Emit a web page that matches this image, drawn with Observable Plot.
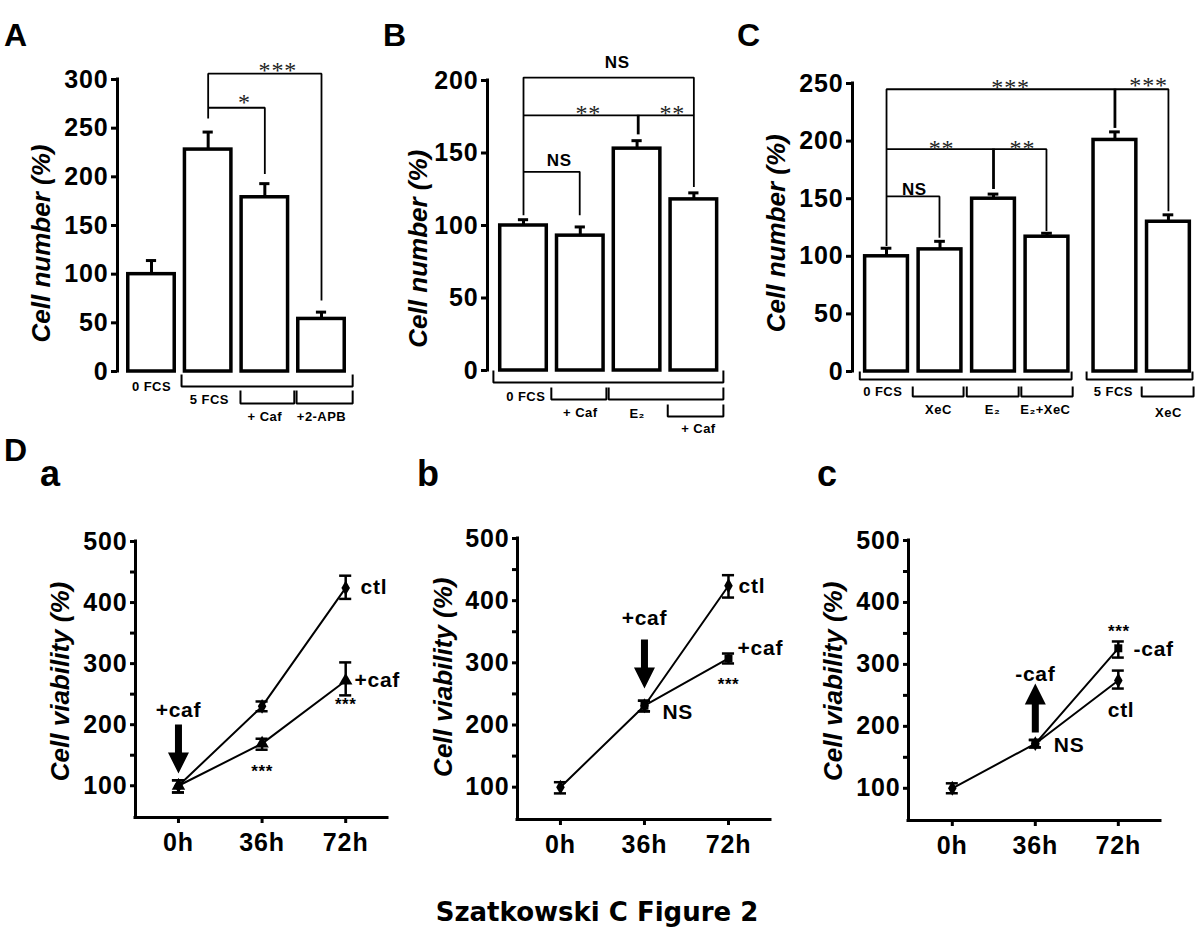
<!DOCTYPE html>
<html>
<head>
<meta charset="utf-8">
<script src="https://cdn.jsdelivr.net/npm/d3@7"></script>
<script src="https://cdn.jsdelivr.net/npm/@observablehq/plot@0.6"></script>
<style>
html,body{margin:0;padding:0;background:#fff;}
#fig{position:relative;width:1200px;height:941px;overflow:hidden;font-family:"Liberation Sans",Arial,Helvetica,sans-serif;color:#000;background:#fff;}
#fig svg{position:absolute;background:transparent;overflow:visible;max-width:none;}
.tag{position:absolute;font-weight:bold;line-height:1;white-space:nowrap;}
</style>
</head>
<body>
<div id="fig"></div>
<script>
const FONT = '"Liberation Sans", Arial, Helvetica, sans-serif';
const SERIF = '"Liberation Serif", "Times New Roman", serif';

// ================= DATA =================
// Panel A
const A_x = [0, 1, 2, 3];
const A_mean = [100, 228, 179, 54];
const A_errTop = [114, 246, 193, 61];
const A_ticks = [0, 50, 100, 150, 200, 250, 300];
const A_sig = [
  {left: 1, right: 3, level: 306, leftEnd: 260, rightEnd: 73},
  {left: 1, right: 2, level: 271, leftEnd: 271, rightEnd: 203}
];
const A_drops = [];
const A_sigText = [{x: 2.23, y: 314.5, text: "***"}, {x: 1.64, y: 281.6, text: "*"}];
const A_groups = [
  {left: 0.53, right: 3.55, top: -3, bottom: -15.5},
  {left: 1.57, right: 2.52, top: -19.5, bottom: -33},
  {left: 2.56, right: 3.55, top: -19.5, bottom: -33}
];
const A_groupText = [
  {x: 0, y: -15.5, text: "0 FCS"}, {x: 1.02, y: -29, text: "5 FCS"},
  {x: 2.0, y: -47, text: "+ Caf"}, {x: 3.0, y: -47, text: "+2-APB"}
];

// Panel B
const B_x = [0, 1, 2, 3];
const B_mean = [100, 93, 153, 118];
const B_errTop = [104, 99, 158.5, 122.5];
const B_ticks = [0, 50, 100, 150, 200];
const B_sig = [
  {left: 0, right: 3.0, level: 202, leftEnd: 107, rightEnd: 176},
  {left: 0, right: 3.0, level: 176, leftEnd: 176, rightEnd: 126.5},
  {left: 0, right: 0.99, level: 137, leftEnd: 137, rightEnd: 107}
];
const B_drops = [{x: 2.02, from: 176, to: 162.5}];
const B_sigText = [
  {x: 1.65, y: 212.4, text: "NS"}, {x: 1.14, y: 180.7, text: "**"},
  {x: 2.62, y: 180.7, text: "**"}, {x: 0.63, y: 144.8, text: "NS"}
];
const B_groups = [
  {left: -0.53, right: 3.52, top: 0, bottom: -8.3},
  {left: 0.49, right: 1.46, top: -11.7, bottom: -20},
  {left: 1.5, right: 3.52, top: -11.7, bottom: -20},
  {left: 2.54, right: 3.52, top: -23.4, bottom: -31.7}
];
const B_groupText = [
  {x: 0.04, y: -18, text: "0 FCS"}, {x: 1.0, y: -29, text: "+ Caf"},
  {x: 2.0, y: -29.7, text: "E\u2082"}, {x: 3.08, y: -40, text: "+ Caf"}
];

// Panel C
const C_x = [0, 1, 2, 3, 4.27, 5.27];
const C_mean = [100, 106, 150, 117, 201, 130];
const C_errTop = [107, 113, 154, 120, 208, 136];
const C_ticks = [0, 50, 100, 150, 200, 250];
const C_sig = [
  {left: 0, right: 5.27, level: 245, leftEnd: 109, rightEnd: 139},
  {left: 0, right: 2.99, level: 193, leftEnd: 193, rightEnd: 122},
  {left: 0, right: 0.99, level: 152, leftEnd: 152, rightEnd: 116}
];
const C_drops = [{x: 4.27, from: 245, to: 211}, {x: 2.0, from: 193, to: 158}];
const C_sigText = [
  {x: 2.32, y: 250.9, text: "***"}, {x: 4.9, y: 252.6, text: "***"},
  {x: 1.03, y: 197.9, text: "**"}, {x: 2.54, y: 197.9, text: "**"},
  {x: 0.52, y: 158, text: "NS"}
];
const C_groups = [
  {left: -0.5, right: 3.46, top: 0, bottom: -7},
  {left: 3.74, right: 5.72, top: 0, bottom: -7},
  {left: 0.49, right: 1.44, top: -13, bottom: -21.7},
  {left: 1.5, right: 2.47, top: -13, bottom: -21.7},
  {left: 2.52, right: 3.48, top: -13, bottom: -21.7},
  {left: 4.77, right: 5.74, top: -13, bottom: -21.7}
];
const C_groupText = [
  {x: -0.07, y: -18, text: "0 FCS"}, {x: 4.24, y: -18, text: "5 FCS"},
  {x: 0.97, y: -33, text: "XeC"}, {x: 1.98, y: -33, text: "E\u2082"},
  {x: 2.97, y: -33, text: "E\u2082+XeC"}, {x: 5.27, y: -35.6, text: "XeC"}
];

// Panel D (a, b, c)
const D_times = [0, 36, 72];
const D_major = [100, 200, 300, 400, 500];
const D_minor = [150, 250, 350, 450];

const Da_ctl = [100, 230, 424], Da_ctlLo = [89, 222, 406], Da_ctlHi = [109, 238, 444];
const Da_cafT = [0, 36, 72];
const Da_caf = [100, 169, 272], Da_cafLo = [89, 159, 248], Da_cafHi = [109, 177, 302];
const Da_labels = [
  {x: 78.4, y: 424.7, text: "ctl", anchor: "start"},
  {x: 75.8, y: 272.4, text: "+caf", anchor: "start"},
  {x: 72, y: 239.6, text: "***", anchor: "middle"},
  {x: 36, y: 129.9, text: "***", anchor: "middle"},
  {x: 0, y: 224, text: "+caf", anchor: "middle"}
];
const Da_arrows = [{x: 0, tip: 120, dir: "down"}];

const Db_ctl = [100, 231, 424], Db_ctlLo = [90, 222, 405], Db_ctlHi = [108, 239, 441];
const Db_cafT = [36, 72];
const Db_caf = [231, 307], Db_cafLo = [222, 299], Db_cafHi = [239, 315];
const Db_labels = [
  {x: 76.3, y: 422.8, text: "ctl", anchor: "start"},
  {x: 75.9, y: 323, text: "+caf", anchor: "start"},
  {x: 72, y: 271.6, text: "***", anchor: "middle"},
  {x: 43.7, y: 220.6, text: "NS", anchor: "start"},
  {x: 36, y: 371.3, text: "+caf", anchor: "middle"}
];
const Db_arrows = [{x: 36, tip: 258.7, dir: "down"}];

const Dc_ctl = [100, 172, 274], Dc_ctlLo = [92, 166, 261], Dc_ctlHi = [108, 178, 290];
const Dc_cafT = [36, 72];
const Dc_caf = [172, 326], Dc_cafLo = [166, 311], Dc_cafHi = [178, 337];
const Dc_labels = [
  {x: 78.6, y: 325.2, text: "-caf", anchor: "start"},
  {x: 73.2, y: 225.6, text: "ctl", anchor: "middle"},
  {x: 72.2, y: 360, text: "***", anchor: "middle"},
  {x: 44, y: 169.1, text: "NS", anchor: "start"},
  {x: 36, y: 284.8, text: "-caf", anchor: "middle"}
];
const Dc_arrows = [{x: 36, tip: 269, dir: "up"}];

// ================= DRAWING =================
const fig = document.getElementById("fig");

function mount(svg, box) {
  svg.style.left = box.left + "px";
  svg.style.top = box.top + "px";
  svg.style.fontFamily = FONT;
  // slight widening of horizontal text to match the reference's broad lettering
  svg.querySelectorAll("text").forEach(t => {
    const tr = t.getAttribute("transform") || "";
    if (!tr.includes("rotate")) t.style.letterSpacing = "0.035em";
  });
  fig.appendChild(svg);
}

function barPanel(o, box) {
  const bars = o.x.map((x, i) => ({x, mean: o.mean[i], top: o.errTop[i]}));
  const sigPts = [];
  o.sig.forEach((b, k) => sigPts.push(
    {k, x: b.left, y: b.leftEnd}, {k, x: b.left, y: b.level},
    {k, x: b.right, y: b.level}, {k, x: b.right, y: b.rightEnd}));
  const grpPts = [];
  o.groups.forEach((g, k) => grpPts.push(
    {k, x: g.left, y: g.top}, {k, x: g.left, y: g.bottom},
    {k, x: g.right, y: g.bottom}, {k, x: g.right, y: g.top}));
  const stars = o.sigText.filter(d => d.text.includes("*"));
  const words = o.sigText.filter(d => !d.text.includes("*"));
  const yMax = o.ticks[o.ticks.length - 1];
  const svg = Plot.plot({
    width: box.width, height: box.height,
    marginLeft: box.ml, marginRight: box.mr, marginTop: box.mt, marginBottom: box.mb,
    x: {domain: box.xDomain, axis: null},
    y: {domain: [0, yMax], label: null},
    marks: [
      Plot.ruleX([box.xDomain[0]], {y1: 0, y2: yMax, strokeWidth: 3, strokeLinecap: "square"}),
      Plot.axisY({ticks: o.ticks, tickSize: 6, tickPadding: 3, strokeWidth: 3, fontSize: 25, fontWeight: "bold", label: null}),
      Plot.rect(bars, {x1: d => d.x - box.half, x2: d => d.x + box.half, y1: 0, y2: "mean", fill: "white", stroke: "black", strokeWidth: 3.5}),
      Plot.ruleX(bars, {x: "x", y1: "mean", y2: "top", strokeWidth: 3}),
      Plot.ruleY(bars, {y: "top", x1: d => d.x - box.cap, x2: d => d.x + box.cap, strokeWidth: 3}),
      Plot.line(sigPts, {x: "x", y: "y", z: "k", strokeWidth: 1.8, strokeLinejoin: "miter", strokeLinecap: "butt"}),
      Plot.ruleX(o.drops, {x: "x", y1: "from", y2: "to", strokeWidth: 2.8}),
      Plot.text(stars, {x: "x", y: "y", text: "text", fontFamily: SERIF, fontSize: 24, fill: "#222", dy: 5}),
      Plot.text(words, {x: "x", y: "y", text: "text", fontSize: 17, fontWeight: "bold"}),
      Plot.line(grpPts, {x: "x", y: "y", z: "k", strokeWidth: 2, strokeLinejoin: "miter", strokeLinecap: "butt"}),
      Plot.text(o.groupText, {x: "x", y: "y", text: "text", fontSize: 13, fontWeight: "bold"}),
      Plot.text([o.ylabel], {x: box.xDomain[0], y: o.ylabelY, text: d => d, rotate: -90, dx: box.ylabDx,
        fontSize: 26, fontWeight: "bold", fontStyle: "italic"})
    ]
  });
  mount(svg, box);
}

const arrowDown = {draw(ctx) {
  ctx.moveTo(0, 0); ctx.lineTo(-10.5, -21); ctx.lineTo(-3.5, -21); ctx.lineTo(-3.5, -49);
  ctx.lineTo(3.5, -49); ctx.lineTo(3.5, -21); ctx.lineTo(10.5, -21); ctx.closePath();
}};
const arrowUp = {draw(ctx) {
  ctx.moveTo(0, 0); ctx.lineTo(-10.5, 21); ctx.lineTo(-3.5, 21); ctx.lineTo(-3.5, 49);
  ctx.lineTo(3.5, 49); ctx.lineTo(3.5, 21); ctx.lineTo(10.5, 21); ctx.closePath();
}};

function linePanel(o, box) {
  const yMin = 48, yMax = 500, cap = 2.6;
  const series = o.series.map(s => s.t.map((t, i) => ({s: s.name, t, v: s.v[i], lo: s.lo[i], hi: s.hi[i]})));
  const pts = series.flat();
  const words = o.labels.filter(d => !d.text.includes("*"));
  const stars = o.labels.filter(d => d.text.includes("*"));
  const marks = [
    Plot.ruleX([box.xDomain[0]], {y1: yMin, y2: yMax, strokeWidth: 3, strokeLinecap: "square"}),
    Plot.ruleY([yMin], {x1: box.xDomain[0], x2: box.xDomain[1], strokeWidth: 3, strokeLinecap: "square"}),
    Plot.axisY({ticks: D_major, tickSize: 5, tickPadding: 3, strokeWidth: 3, fontSize: 25, fontWeight: "bold", label: null}),
    Plot.axisY({ticks: D_minor, tickSize: 5, tickFormat: () => "", strokeWidth: 3, label: null}),
    Plot.axisX({ticks: D_times, tickFormat: d => d + "h", tickSize: 6, tickPadding: 10, strokeWidth: 3, fontSize: 25, fontWeight: "bold", label: null}),
    Plot.line(pts, {x: "t", y: "v", z: "s", strokeWidth: 2}),
    Plot.ruleX(pts, {x: "t", y1: "lo", y2: "hi", strokeWidth: 2.5}),
    Plot.ruleY(pts, {y: "lo", x1: d => d.t - cap, x2: d => d.t + cap, strokeWidth: 2.5}),
    Plot.ruleY(pts, {y: "hi", x1: d => d.t - cap, x2: d => d.t + cap, strokeWidth: 2.5})
  ];
  o.series.forEach((s, j) => {
    marks.push(Plot.dot(series[j], {x: "t", y: "v", symbol: s.symbol, r: s.r, fill: "black", stroke: "none"}));
  });
  marks.push(
    Plot.text(words.filter(d => d.anchor === "start"), {x: "x", y: "y", text: "text", fontSize: 21, fontWeight: "bold", textAnchor: "start"}),
    Plot.text(words.filter(d => d.anchor === "middle"), {x: "x", y: "y", text: "text", fontSize: 21, fontWeight: "bold"}),
    Plot.text(stars, {x: "x", y: "y", text: "text", fontSize: 17, fontWeight: "bold", dy: 4}),
    Plot.dot(o.arrows.filter(d => d.dir === "down"), {x: "x", y: "tip", symbol: arrowDown, r: 5, fill: "black", stroke: "none"}),
    Plot.dot(o.arrows.filter(d => d.dir === "up"), {x: "x", y: "tip", symbol: arrowUp, r: 5, fill: "black", stroke: "none"}),
    Plot.text(["Cell viability (%)"], {x: box.xDomain[0], y: o.ylabelY, text: d => d, rotate: -90, dx: box.ylabDx,
      fontSize: 26, fontWeight: "bold", fontStyle: "italic"})
  );
  const svg = Plot.plot({
    width: box.width, height: box.height,
    marginLeft: box.ml, marginRight: box.mr, marginTop: box.mt, marginBottom: box.mb,
    x: {domain: box.xDomain, label: null},
    y: {domain: [yMin, yMax], label: null},
    marks
  });
  mount(svg, box);
}

barPanel({x: A_x, mean: A_mean, errTop: A_errTop, ticks: A_ticks, sig: A_sig, drops: A_drops, sigText: A_sigText,
  groups: A_groups, groupText: A_groupText, ylabel: "Cell number (%)", ylabelY: 131.5},
  {left: 0, top: 0, width: 370, height: 440, ml: 117, mr: 15, mt: 79, mb: 69, xDomain: [-0.6, 3.6], half: 0.41, cap: 0.09, ylabDx: -76});

barPanel({x: B_x, mean: B_mean, errTop: B_errTop, ticks: B_ticks, sig: B_sig, drops: B_drops, sigText: B_sigText,
  groups: B_groups, groupText: B_groupText, ylabel: "Cell number (%)", ylabelY: 84},
  {left: 370, top: 0, width: 370, height: 440, ml: 117, mr: 12, mt: 80, mb: 70, xDomain: [-0.634, 3.61], half: 0.41, cap: 0.09, ylabDx: -69});

barPanel({x: C_x, mean: C_mean, errTop: C_errTop, ticks: C_ticks, sig: C_sig, drops: C_drops, sigText: C_sigText,
  groups: C_groups, groupText: C_groupText, ylabel: "Cell number (%)", ylabelY: 120},
  {left: 740, top: 0, width: 460, height: 440, ml: 112, mr: 5, mt: 83, mb: 69, xDomain: [-0.636, 5.776], half: 0.40, cap: 0.1, ylabDx: -75.5});

linePanel({series: [
    {name: "ctl", t: D_times, v: Da_ctl, lo: Da_ctlLo, hi: Da_ctlHi, symbol: "diamond", r: 4.5},
    {name: "+caf", t: Da_cafT, v: Da_caf, lo: Da_cafLo, hi: Da_cafHi, symbol: "triangle", r: 5}
  ], labels: Da_labels, arrows: Da_arrows, ylabelY: 270.7},
  {left: 0, top: 500, width: 400, height: 360, ml: 135, mr: 13, mt: 41, mb: 43, xDomain: [-18.5, 90], ylabDx: -75});

linePanel({series: [
    {name: "ctl", t: D_times, v: Db_ctl, lo: Db_ctlLo, hi: Db_ctlHi, symbol: "diamond", r: 4.5},
    {name: "+caf", t: Db_cafT, v: Db_caf, lo: Db_cafLo, hi: Db_cafHi, symbol: "square", r: 4.5}
  ], labels: Db_labels, arrows: Db_arrows, ylabelY: 276.9},
  {left: 400, top: 500, width: 400, height: 360, ml: 117, mr: 30, mt: 38, mb: 41, xDomain: [-18.4, 90], ylabDx: -73.5});

linePanel({series: [
    {name: "ctl", t: D_times, v: Dc_ctl, lo: Dc_ctlLo, hi: Dc_ctlHi, symbol: "diamond", r: 4.5},
    {name: "-caf", t: Dc_cafT, v: Dc_caf, lo: Dc_cafLo, hi: Dc_cafHi, symbol: "square", r: 4.5}
  ], labels: Dc_labels, arrows: Dc_arrows, ylabelY: 272.7},
  {left: 790, top: 500, width: 410, height: 360, ml: 118, mr: 40, mt: 40, mb: 40, xDomain: [-19, 90.3], ylabDx: -74.5});

// Panel letters and caption
const tags = [
  {text: "A", left: 4, top: 19, size: 32},
  {text: "B", left: 383, top: 19, size: 32},
  {text: "C", left: 737, top: 19, size: 32},
  {text: "D", left: 4, top: 434, size: 32},
  {text: "a", left: 40, top: 456, size: 36},
  {text: "b", left: 417, top: 456, size: 36},
  {text: "c", left: 817, top: 456, size: 36}
];
tags.forEach(t => {
  const el = document.createElement("div");
  el.className = "tag";
  el.textContent = t.text;
  el.style.left = t.left + "px";
  el.style.top = t.top + "px";
  el.style.fontSize = t.size + "px";
  fig.appendChild(el);
});
const cap = document.createElement("div");
cap.className = "tag";
cap.textContent = "Szatkowski C Figure 2";
cap.style.left = "0px";
cap.style.width = "1194px";
cap.style.textAlign = "center";
cap.style.top = "899px";
cap.style.fontSize = "26px";
cap.style.fontFamily = '"DejaVu Sans", Verdana, sans-serif';
fig.appendChild(cap);
</script>
</body>
</html>
